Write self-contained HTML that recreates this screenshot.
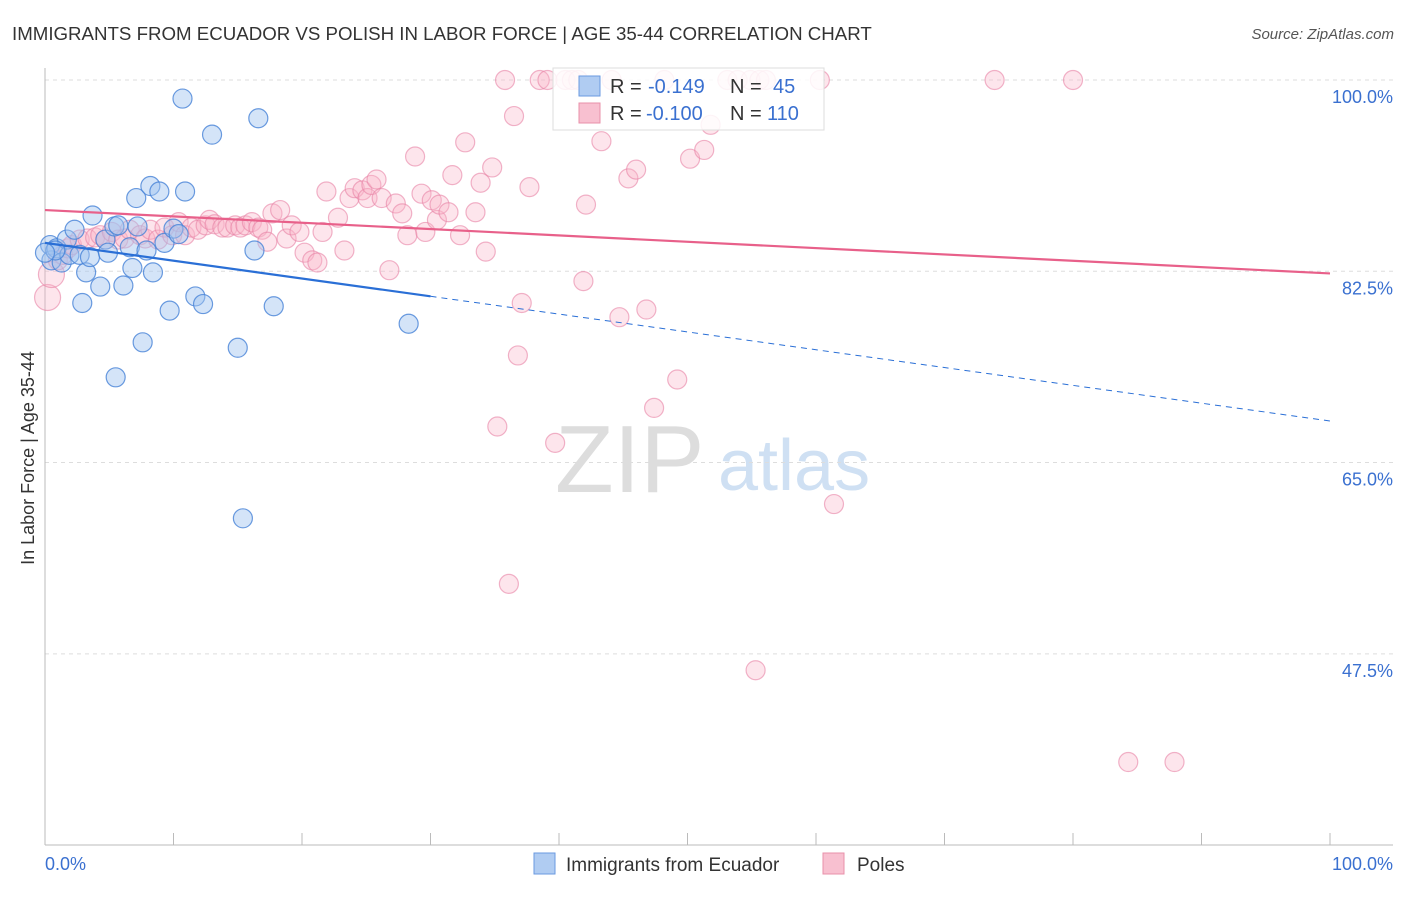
<!DOCTYPE html>
<html><head><meta charset="utf-8"><style>
body{margin:0;background:#fff;font-family:"Liberation Sans",sans-serif}
svg text{font-family:"Liberation Sans",sans-serif}
</style></head><body>
<svg id="c" width="1406" height="892">
<text x="12" y="40" font-size="18.7" fill="#333">IMMIGRANTS FROM ECUADOR VS POLISH IN LABOR FORCE | AGE 35-44 CORRELATION CHART</text>
<text x="1394" y="39" font-size="15" fill="#555" font-style="italic" text-anchor="end">Source: ZipAtlas.com</text>
<text x="34" y="458" font-size="18" fill="#333" transform="rotate(-90 34 458)" text-anchor="middle">In Labor Force | Age 35-44</text>
<text x="555" y="492" font-size="96" fill="#ddd" font-family="Liberation Serif">ZIP</text>
<text x="718" y="490" font-size="72" fill="#cfe0f3">atlas</text>
<g id="grid"></g><g id="pts"></g><g id="lines"></g>
<g>
<rect x="553" y="68" width="271" height="62" fill="#fff" fill-opacity="0.85" stroke="#ddd"/>
<rect x="579" y="76" width="21" height="20" fill="#b0ccf2" stroke="#6a9ae0"/>
<rect x="579" y="103" width="21" height="20" fill="#f8c0d0" stroke="#e890aa"/>
<text x="610" y="93" font-size="20" fill="#333">R =</text>
<text x="648" y="93" font-size="20" fill="#3a70d0">-0.149</text>
<text x="730" y="93" font-size="20" fill="#333">N =</text>
<text x="773" y="93" font-size="20" fill="#3a70d0">45</text>
<text x="610" y="120" font-size="20" fill="#333">R =</text>
<text x="646" y="120" font-size="20" fill="#3a70d0">-0.100</text>
<text x="730" y="120" font-size="20" fill="#333">N =</text>
<text x="767" y="120" font-size="20" fill="#3a70d0">110</text>
</g>
<g>
<rect x="534" y="853" width="21" height="21" fill="#b0ccf2" stroke="#6a9ae0"/>
<text x="566" y="871" font-size="19" fill="#333">Immigrants from Ecuador</text>
<rect x="823" y="853" width="21" height="21" fill="#f8c0d0" stroke="#e890aa"/>
<text x="857" y="871" font-size="19" fill="#333">Poles</text>
</g>
</svg>
<script>
const yTicks=[100,82.5,65,47.5];
const yTickLabels=["100.0%","82.5%","65.0%","47.5%"];
const xTickLabels=["0.0%","100.0%"];
const blueX=[0.4,0.5,0.9,1.3,1.7,1.9,2.3,2.7,2.9,3.2,3.5,3.7,4.3,4.7,4.9,5.4,5.7,6.1,6.6,6.8,7.1,7.2,7.6,7.9,8.2,8.4,8.9,9.3,9.7,10.0,10.4,10.7,10.9,11.7,12.3,13.0,15.0,15.4,16.3,16.6,17.8,28.3,5.5,0.8,0];
const blueY=[84.9,83.5,84.6,83.3,85.4,84.0,86.3,84.0,79.6,82.4,83.8,87.6,81.1,85.4,84.2,86.6,86.7,81.2,84.7,82.8,89.2,86.6,76.0,84.4,90.3,82.4,89.8,85.1,78.9,86.4,85.9,98.3,89.8,80.2,79.5,95.0,75.5,59.9,84.4,96.5,79.3,77.7,72.8,84.4,84.2];
const pinkX=[0.2,0.5,1.0,1.4,1.8,2.1,2.7,3.3,3.9,4.3,4.7,5.2,5.7,6.2,6.6,7.4,7.8,8.2,8.8,9.3,9.9,10.4,10.9,11.4,11.9,12.5,12.8,13.2,13.8,14.2,14.8,15.2,15.6,16.1,16.6,16.9,17.3,17.7,18.3,18.8,19.2,19.8,20.2,20.8,21.2,21.6,21.9,22.8,23.3,23.7,24.1,24.7,25.1,25.4,25.8,26.2,26.8,27.3,27.8,28.2,28.8,29.3,29.6,30.1,30.5,30.7,31.4,31.7,32.3,32.7,33.5,33.9,34.3,34.8,35.8,36.5,36.8,37.1,37.7,38.5,39.1,39.7,40.5,41.0,41.5,41.9,42.1,43.3,44.1,44.7,45.4,46.0,46.8,47.4,48.2,49.2,50.2,51.3,51.8,53.1,53.9,54.9,55.6,56.1,60.3,61.4,55.3,73.9,80.0,84.3,87.9,35.2,36.1];
const pinkY=[80.1,82.2,83.5,84.0,84.6,84.9,85.4,85.5,85.6,85.8,85.4,86.1,85.4,85.5,86.3,85.8,85.5,86.3,85.4,86.5,85.8,87.0,85.8,86.5,86.3,86.7,87.2,86.8,86.5,86.5,86.7,86.5,86.7,87.0,86.5,86.3,85.2,87.8,88.1,85.5,86.7,86.1,84.2,83.5,83.3,86.1,89.8,87.4,84.4,89.2,90.1,89.9,89.2,90.4,90.9,89.2,82.6,88.7,87.8,85.8,93.0,89.6,86.1,89.0,87.2,88.6,87.9,91.3,85.8,94.3,87.9,90.6,84.3,92.0,100,96.7,74.8,79.6,90.2,100,100,66.8,100,100,100,81.6,88.6,94.4,100,78.3,91.0,91.8,79.0,70.0,100,72.6,92.8,93.6,95.9,100,100,100,100,100,100,61.2,46.0,100,100,37.6,37.6,68.3,53.9];
const blueFit=[85.1,68.8];
const pinkFit=[88.1,82.3];
const X0=45,X1=1330,Y100=80,PXPER=10.93;
const sx=v=>X0+(X1-X0)*v/100;
const sy=v=>Y100+(100-v)*PXPER;
const NS="http://www.w3.org/2000/svg";
function mk(tag,attrs,parent){const e=document.createElementNS(NS,tag);for(const k in attrs)e.setAttribute(k,attrs[k]);parent.appendChild(e);return e;}
const grid=document.getElementById('grid');
yTicks.forEach((t,i)=>{
 const l=mk('line',{x1:X0,x2:1393,y1:sy(t),y2:sy(t),stroke:'#ddd','stroke-dasharray':'4,4'},grid);
 
 
 const tx=mk('text',{x:1393,y:sy(t)+23,'font-size':18,fill:'#3a70d0','text-anchor':'end'},grid);
 tx.textContent=yTickLabels[i];
 
 
});
const ax=mk('line',{x1:X0,x2:X0,y1:68,y2:845,stroke:'#bbb'},grid);


const bx=mk('line',{x1:X0,x2:1393,y1:845,y2:845,stroke:'#bbb'},grid);


for(let i=0;i<=10;i++){
 const t=mk('line',{x1:sx(i*10),x2:sx(i*10),y1:833,y2:845,stroke:'#bbb'},grid);
 
 
}
[[0,'start',45],[100,'end',1393]].forEach((d,i)=>{
 const tx=mk('text',{x:d[2],y:870,'font-size':18,fill:'#3a70d0','text-anchor':d[1]},grid);
 tx.textContent=xTickLabels[i];
 
 
});
const pts=document.getElementById('pts');
pinkX.forEach((x,i)=>{
 const r=(i<2)?13:9.5;
 const c=mk('circle',{cx:sx(x),cy:sy(pinkY[i]),r:r,fill:'rgba(248,180,200,0.35)',stroke:'rgba(232,130,165,0.6)','stroke-width':1.2},pts);
 
 
});
blueX.forEach((x,i)=>{
 const c=mk('circle',{cx:sx(x),cy:sy(blueY[i]),r:9.5,fill:'rgba(160,195,240,0.45)',stroke:'rgba(70,130,215,0.8)','stroke-width':1.2},pts);
 
 
});
const lines=document.getElementById('lines');
const by=x=>blueFit[0]+(blueFit[1]-blueFit[0])*x/100;
const py=x=>pinkFit[0]+(pinkFit[1]-pinkFit[0])*x/100;
const pl=mk('line',{x1:sx(0),y1:sy(py(0)),x2:sx(100),y2:sy(py(100)),stroke:'#e8608a','stroke-width':2.2},lines);


const bl=mk('line',{x1:sx(0),y1:sy(by(0)),x2:sx(30),y2:sy(by(30)),stroke:'#2a6fd6','stroke-width':2.2},lines);


const bd=mk('line',{x1:sx(30),y1:sy(by(30)),x2:sx(100),y2:sy(by(100)),stroke:'#2a6fd6','stroke-width':1,'stroke-dasharray':'6,5'},lines);


</script>
</body></html>
